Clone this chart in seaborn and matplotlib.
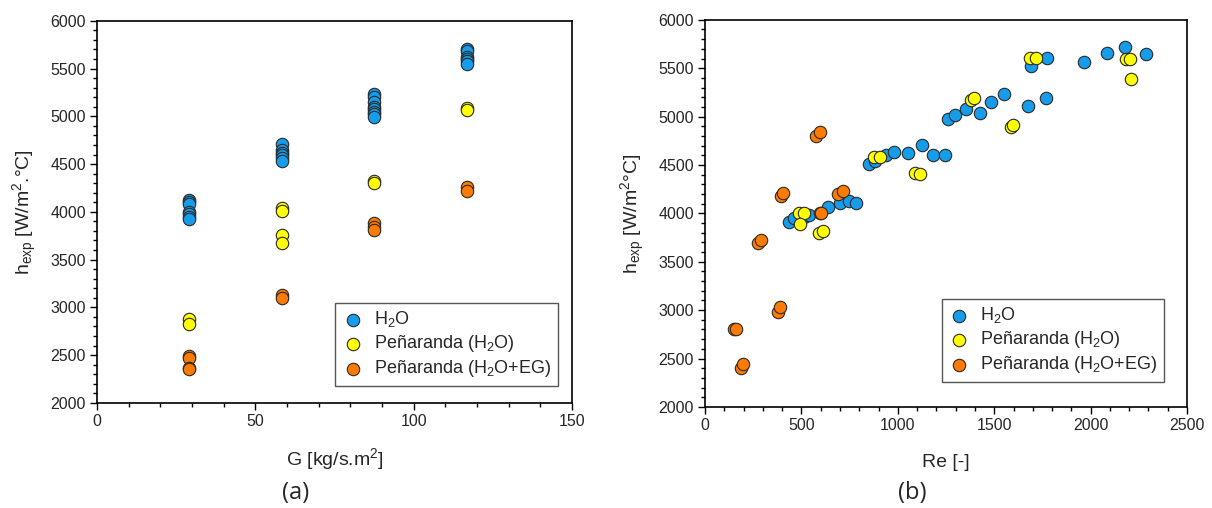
import numpy as np
import pandas as pd
import matplotlib
matplotlib.use('Agg')
import matplotlib.pyplot as plt
from matplotlib.ticker import MultipleLocator
import seaborn as sns

# ---- data ----
# panel (a): h_exp vs mass flux G
h2o_G = [29.2, 29.2, 29.2, 29.2, 29.2, 29.2, 29.2,
         58.4, 58.4, 58.4, 58.4, 58.4, 58.4,
         87.6, 87.6, 87.6, 87.6, 87.6, 87.6, 87.6, 87.6,
         116.8, 116.8, 116.8, 116.8, 116.8, 116.8]
h2o_hG = [4120, 4100, 4080, 4000, 3980, 3950, 3930,
          4710, 4650, 4620, 4600, 4560, 4530,
          5230, 5200, 5150, 5100, 5080, 5050, 5020, 4990,
          5710, 5680, 5620, 5600, 5580, 5550]

pen_h2o_G = [29.2, 29.2, 58.4, 58.4, 58.4, 58.4, 87.6, 87.6, 116.8, 116.8]
pen_h2o_hG = [2880, 2830, 4040, 4010, 3760, 3670, 4320, 4300, 5090, 5070]

pen_eg_G = [29.2, 29.2, 29.2, 29.2, 58.4, 58.4, 87.6, 87.6, 87.6, 116.8, 116.8]
pen_eg_hG = [2490, 2470, 2370, 2350, 3130, 3100, 3880, 3840, 3810, 4260, 4220]

# panel (b): h_exp vs Reynolds number
h2o_Re = [438, 462, 511, 540, 636, 700, 748, 783, 850, 883, 939, 982, 1053, 1126,
          1185, 1245, 1259, 1295, 1356, 1427, 1481, 1552, 1676, 1692, 1768, 1772,
          1964, 2085, 2177, 2288]
h2o_hRe = [3914, 3948, 3966, 3983, 4069, 4103, 4124, 4110, 4510, 4545, 4603, 4631, 4628, 4703,
           4603, 4600, 4976, 5014, 5076, 5041, 5148, 5231, 5114, 5521, 5190, 5603,
           5566, 5652, 5714, 5648]

pen_h2o_Re = [485, 511, 494, 589, 610, 878, 906, 1091, 1114, 1377, 1396,
              1588, 1598, 1683, 1715, 2182, 2205, 2208]
pen_h2o_hRe = [4000, 4007, 3886, 3793, 3821, 4586, 4586, 4421, 4407, 5172, 5190,
               4897, 4910, 5603, 5603, 5597, 5593, 5393]

pen_eg_Re = [149, 159, 187, 199, 277, 289, 378, 390, 393, 407,
             578, 594, 594, 603, 689, 714]
pen_eg_hRe = [2800, 2810, 2397, 2448, 3697, 3724, 2983, 3028, 4179, 4207,
              4800, 4845, 4000, 4000, 4200, 4228]

labels = [r'$\mathregular{H_2O}$',
          r'Peñaranda ($\mathregular{H_2O}$)',
          r'Peñaranda ($\mathregular{H_2O}$+EG)']
colors = ['#159DEC', '#FFFF00', '#FF7A00']

sns.set_style('ticks')
plt.rcParams['font.family'] = ['Liberation Sans', 'DejaVu Sans']
plt.rcParams['mathtext.fontset'] = 'custom'
plt.rcParams['mathtext.rm'] = 'Liberation Sans'

fig = plt.figure(figsize=(12.12, 5.08), dpi=100)
ax1 = fig.add_axes([0.080, 0.207, 0.392, 0.752])
ax2 = fig.add_axes([0.5817, 0.199, 0.3977, 0.762])

panels = [
    (ax1, [(h2o_G, h2o_hG), (pen_h2o_G, pen_h2o_hG), (pen_eg_G, pen_eg_hG)]),
    (ax2, [(h2o_Re, h2o_hRe), (pen_h2o_Re, pen_h2o_hRe), (pen_eg_Re, pen_eg_hRe)]),
]

for ax, series in panels:
    for (xs, ys), lab, col in zip(series, labels, colors):
        df = pd.DataFrame({'x': xs, 'y': ys})
        sns.scatterplot(data=df, x='x', y='y', color=col, s=80, edgecolor='#2a2a2a',
                        linewidth=0.8, label=lab, ax=ax, zorder=3)
    ax.set_ylim(2000, 6000)
    ax.yaxis.set_major_locator(MultipleLocator(500))
    ax.yaxis.set_minor_locator(MultipleLocator(100))
    ax.tick_params(which='major', direction='out', length=5, width=1, labelsize=11.5, pad=3,
                   color='black')
    ax.tick_params(which='minor', direction='out', length=3, width=1, color='black')
    for sp in ax.spines.values():
        sp.set_visible(True)
        sp.set_linewidth(1.2)
        sp.set_color('black')

ax1.set_xlim(0, 150)
ax1.xaxis.set_major_locator(MultipleLocator(50))
ax1.xaxis.set_minor_locator(MultipleLocator(10))
ax1.set_xlabel(r'G [kg/s.m$\mathregular{^2}$]', fontsize=14, labelpad=12)
ax1.set_ylabel(r'$\mathregular{h_{exp}}$ [W/m$\mathregular{^2}$.°C]', fontsize=14, labelpad=8)

ax2.set_xlim(0, 2500)
ax2.xaxis.set_major_locator(MultipleLocator(500))
ax2.xaxis.set_minor_locator(MultipleLocator(100))
ax2.set_xlabel('Re [-]', fontsize=14, labelpad=15)
ax2.set_ylabel(r'$\mathregular{h_{exp}}$ [W/m$\mathregular{^2}$°C]', fontsize=14, labelpad=8)

leg_pos = {ax1: (0.97, 0.045), ax2: (0.952, 0.065)}
for ax in (ax1, ax2):
    leg = ax.legend(loc='lower right', bbox_to_anchor=leg_pos[ax], borderaxespad=0,
                    fontsize=13, frameon=True, fancybox=False, framealpha=1,
                    edgecolor='#555555', handletextpad=0.6, labelspacing=0.22,
                    borderpad=0.35, handlelength=1.2, markerscale=1.0)
    leg.get_frame().set_linewidth(1.0)

fig.text(0.2435, 0.0295, '(a)', fontsize=17, ha='center', va='center', family='Open Sans')
fig.text(0.7525, 0.0295, '(b)', fontsize=17, ha='center', va='center', family='Open Sans')

fig.savefig('out.png', dpi=100)
